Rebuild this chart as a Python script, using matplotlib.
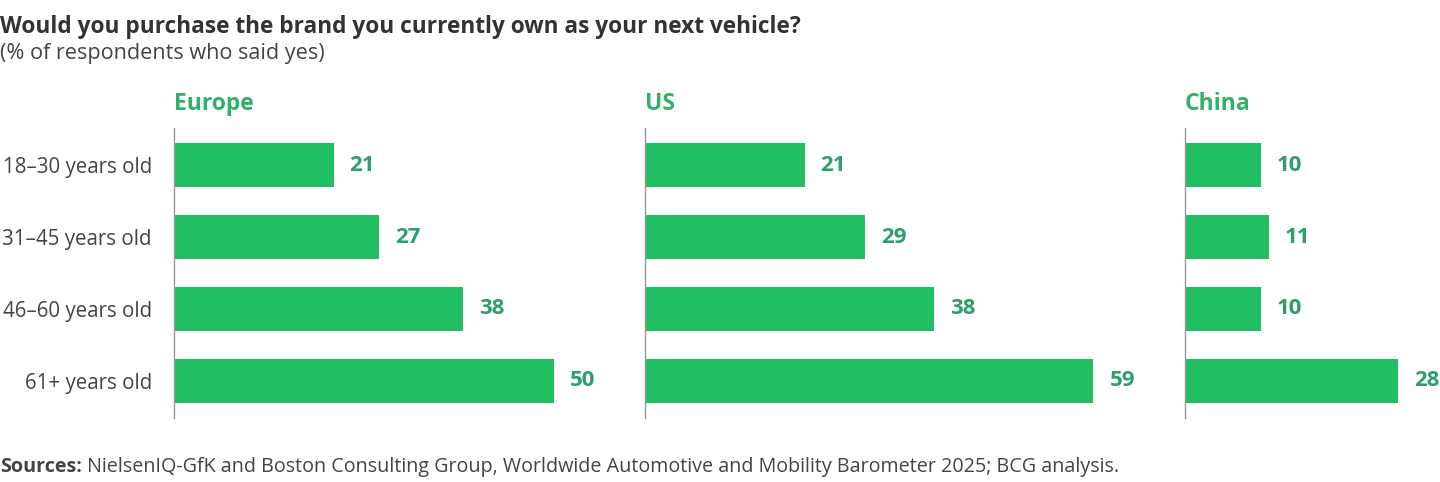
import matplotlib
matplotlib.use("Agg")
import matplotlib.pyplot as plt

categories = ["18–30 years old", "31–45 years old", "46–60 years old", "61+ years old"]
regions = ["Europe", "US", "China"]
europe = [21, 27, 38, 50]
us = [21, 29, 38, 59]
china = [10, 11, 10, 28]
series = [europe, us, china]

title = "Would you purchase the brand you currently own as your next vehicle?"
subtitle = "(% of respondents who said yes)"
source_bold = "Sources:"
source_rest = " NielsenIQ-GfK and Boston Consulting Group, Worldwide Automotive and Mobility Barometer 2025; BCG analysis."

BAR = "#21BF61"
LABEL = "#2E9E6A"
HEAD = "#30B06A"
TEXT = "#444444"
DARK = "#333333"

plt.rcParams['font.family'] = ['Open Sans', 'DejaVu Sans']

W, H = 1440, 482
fig = plt.figure(figsize=(W / 100, H / 100), dpi=100)

px_per_unit = 7.6
lefts = [174, 645, 1185]
xmax = [60, 70, 33]
top_px, bot_px = 128, 418

for i, (reg, vals) in enumerate(zip(regions, series)):
    l = lefts[i] / W
    w = xmax[i] * px_per_unit / W
    b = 1 - bot_px / H
    h = (bot_px - top_px) / H
    ax = fig.add_axes([l, b, w, h])
    y = list(range(len(categories)))
    ax.barh(y, vals, height=0.61, color=BAR)
    ax.set_xlim(0, xmax[i])
    ax.set_ylim(3.514, -0.514)
    for s in ["top", "right", "bottom"]:
        ax.spines[s].set_visible(False)
    ax.spines["left"].set_color("#999999")
    ax.spines["left"].set_linewidth(1.0)
    ax.set_xticks([])
    if i == 0:
        ax.set_yticks(y)
        ax.set_yticklabels(categories, fontsize=14.8, color=TEXT)
        ax.tick_params(axis="y", length=0, pad=16)
    else:
        ax.set_yticks([])
    for yi, v in zip(y, vals):
        ax.annotate(str(v), (v, yi), xytext=(16, 0), textcoords="offset pixels",
                    ha="left", va="center", fontsize=16, fontweight="bold", color=LABEL)
    fig.text(lefts[i] / W, 1 - 104 / H, reg, ha="left", va="center",
             fontsize=16.5, fontweight="bold", color=HEAD)

fig.text(0, 1 - 27 / H, title, ha="left", va="center", fontsize=16.3, fontweight="bold", color=DARK)
fig.text(0, 1 - 53 / H, subtitle, ha="left", va="center", fontsize=15.6, color=TEXT)

t = fig.text(0, 1 - 467 / H, source_bold, ha="left", va="center", fontsize=14.2, fontweight="bold", color=TEXT)
fig.canvas.draw()
bb = t.get_window_extent()
fig.text(bb.x1 / W, 1 - 467 / H, source_rest, ha="left", va="center", fontsize=14.2, color=TEXT)

fig.savefig("out.png", dpi=100, facecolor="white")
